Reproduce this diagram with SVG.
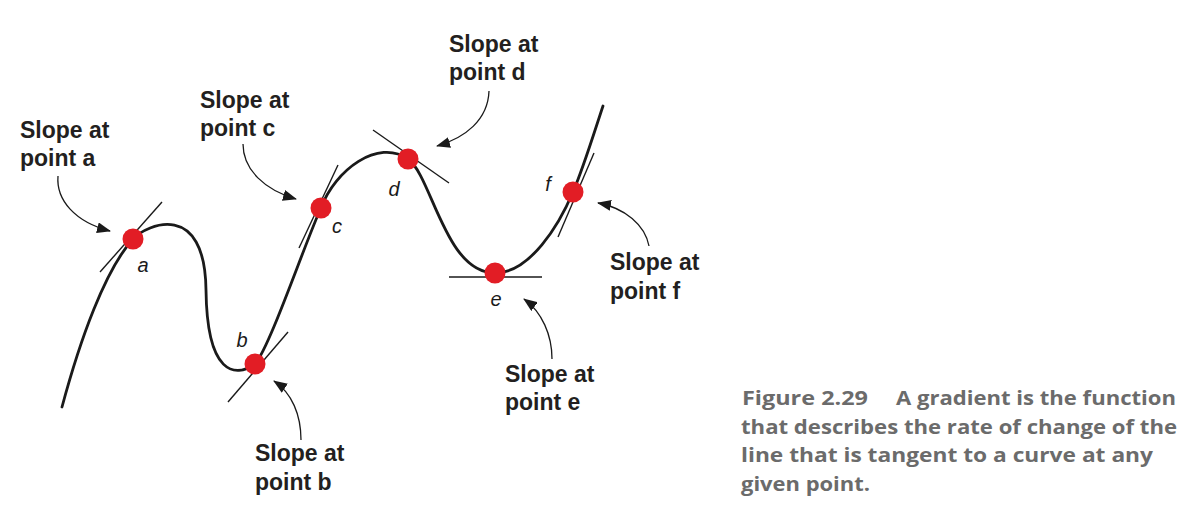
<svg xmlns="http://www.w3.org/2000/svg" width="1197" height="532" viewBox="0 0 1197 532">
<style>
.curve{fill:none;stroke:#1a1a1a;stroke-width:2.8;stroke-linecap:round}
.tan{fill:none;stroke:#1a1a1a;stroke-width:1.4}
.dot{fill:#e21d25}
.pl{font-family:"Liberation Sans",Arial,sans-serif;font-style:italic;font-size:20px;fill:#1a1a1a;text-anchor:middle}
.call{font-family:"Liberation Sans",Arial,sans-serif;font-weight:bold;font-size:23px;fill:#231f20}
.arr{fill:none;stroke:#1a1a1a;stroke-width:1.3;marker-end:url(#ah)}
.cap{font-family:"Open Sans","Liberation Sans",sans-serif;font-weight:bold;font-size:20px;fill:#6b6b6b}
</style>
<defs>
<marker id="ah" markerUnits="userSpaceOnUse" markerWidth="14" markerHeight="11" refX="13" refY="5.5" orient="auto">
<path d="M0,0 L14,5.5 L0,11 Z" fill="#1a1a1a"/>
</marker>
</defs>
<g id="curve">
<path class="curve" d="M62,407 C80,340 105,270 133,239 C147,224 205,200 206,290 C207,375 235,378 255,364 C270,347 306,240 321,208 C335,170 378,138 408,159 C432,176 445,273 495,273 C530,273 559,225 573,192 C583,169 595,130 603,106"/>
</g>
<g id="tangents">
<line class="tan" x1="100" y1="272" x2="162" y2="202"/>
<line class="tan" x1="228" y1="402" x2="288" y2="332"/>
<line class="tan" x1="299" y1="248" x2="338" y2="165"/>
<line class="tan" x1="373" y1="130" x2="449" y2="183"/>
<line class="tan" x1="449" y1="277" x2="542" y2="277"/>
<line class="tan" x1="558" y1="237" x2="594" y2="153"/>
</g>
<g id="point-a"><circle class="dot" cx="133" cy="239" r="10.5"/><text class="pl" x="143" y="272">a</text></g>
<g id="point-b"><circle class="dot" cx="255" cy="364" r="10.5"/><text class="pl" x="242" y="347">b</text></g>
<g id="point-c"><circle class="dot" cx="321" cy="208" r="10.5"/><text class="pl" x="337" y="233">c</text></g>
<g id="point-d"><circle class="dot" cx="408" cy="159" r="10.5"/><text class="pl" x="394" y="196">d</text></g>
<g id="point-e"><circle class="dot" cx="495" cy="273" r="10.5"/><text class="pl" x="496" y="306">e</text></g>
<g id="point-f"><circle class="dot" cx="573" cy="192" r="10.5"/><text class="pl" x="548" y="191">f</text></g>
<g id="label-a"><text class="call" x="20" y="138">Slope at</text><text class="call" x="20" y="166">point a</text></g>
<g id="label-b"><text class="call" x="255" y="461">Slope at</text><text class="call" x="255" y="490">point b</text></g>
<g id="label-c"><text class="call" x="200" y="108">Slope at</text><text class="call" x="200" y="136">point c</text></g>
<g id="label-d"><text class="call" x="449" y="52">Slope at</text><text class="call" x="449" y="80">point d</text></g>
<g id="label-e"><text class="call" x="505" y="382">Slope at</text><text class="call" x="505" y="410">point e</text></g>
<g id="label-f"><text class="call" x="610" y="270">Slope at</text><text class="call" x="610" y="299">point f</text></g>
<g id="connectors">
<path class="arr" d="M58,176 C56,200 75,222 110,231"/>
<path class="arr" d="M243,144 C243,170 265,190 296,199"/>
<path class="arr" d="M489,91 C488,120 465,138 437,146"/>
<path class="arr" d="M649,246 C645,225 625,208 598,203"/>
<path class="arr" d="M552,359 C552,335 542,312 524,299"/>
<path class="arr" d="M301,440 C301,415 292,393 274,381"/>
</g>
<g id="caption">
<text class="cap" x="742" y="405" textLength="126" lengthAdjust="spacingAndGlyphs">Figure 2.29</text>
<text class="cap" x="896" y="405" textLength="280" lengthAdjust="spacingAndGlyphs">A gradient is the function</text>
<text class="cap" x="741" y="434" textLength="436" lengthAdjust="spacingAndGlyphs">that describes the rate of change of the</text>
<text class="cap" x="741" y="462" textLength="412" lengthAdjust="spacingAndGlyphs">line that is tangent to a curve at any</text>
<text class="cap" x="741" y="491" textLength="129" lengthAdjust="spacingAndGlyphs">given point.</text>
</g>
</svg>
